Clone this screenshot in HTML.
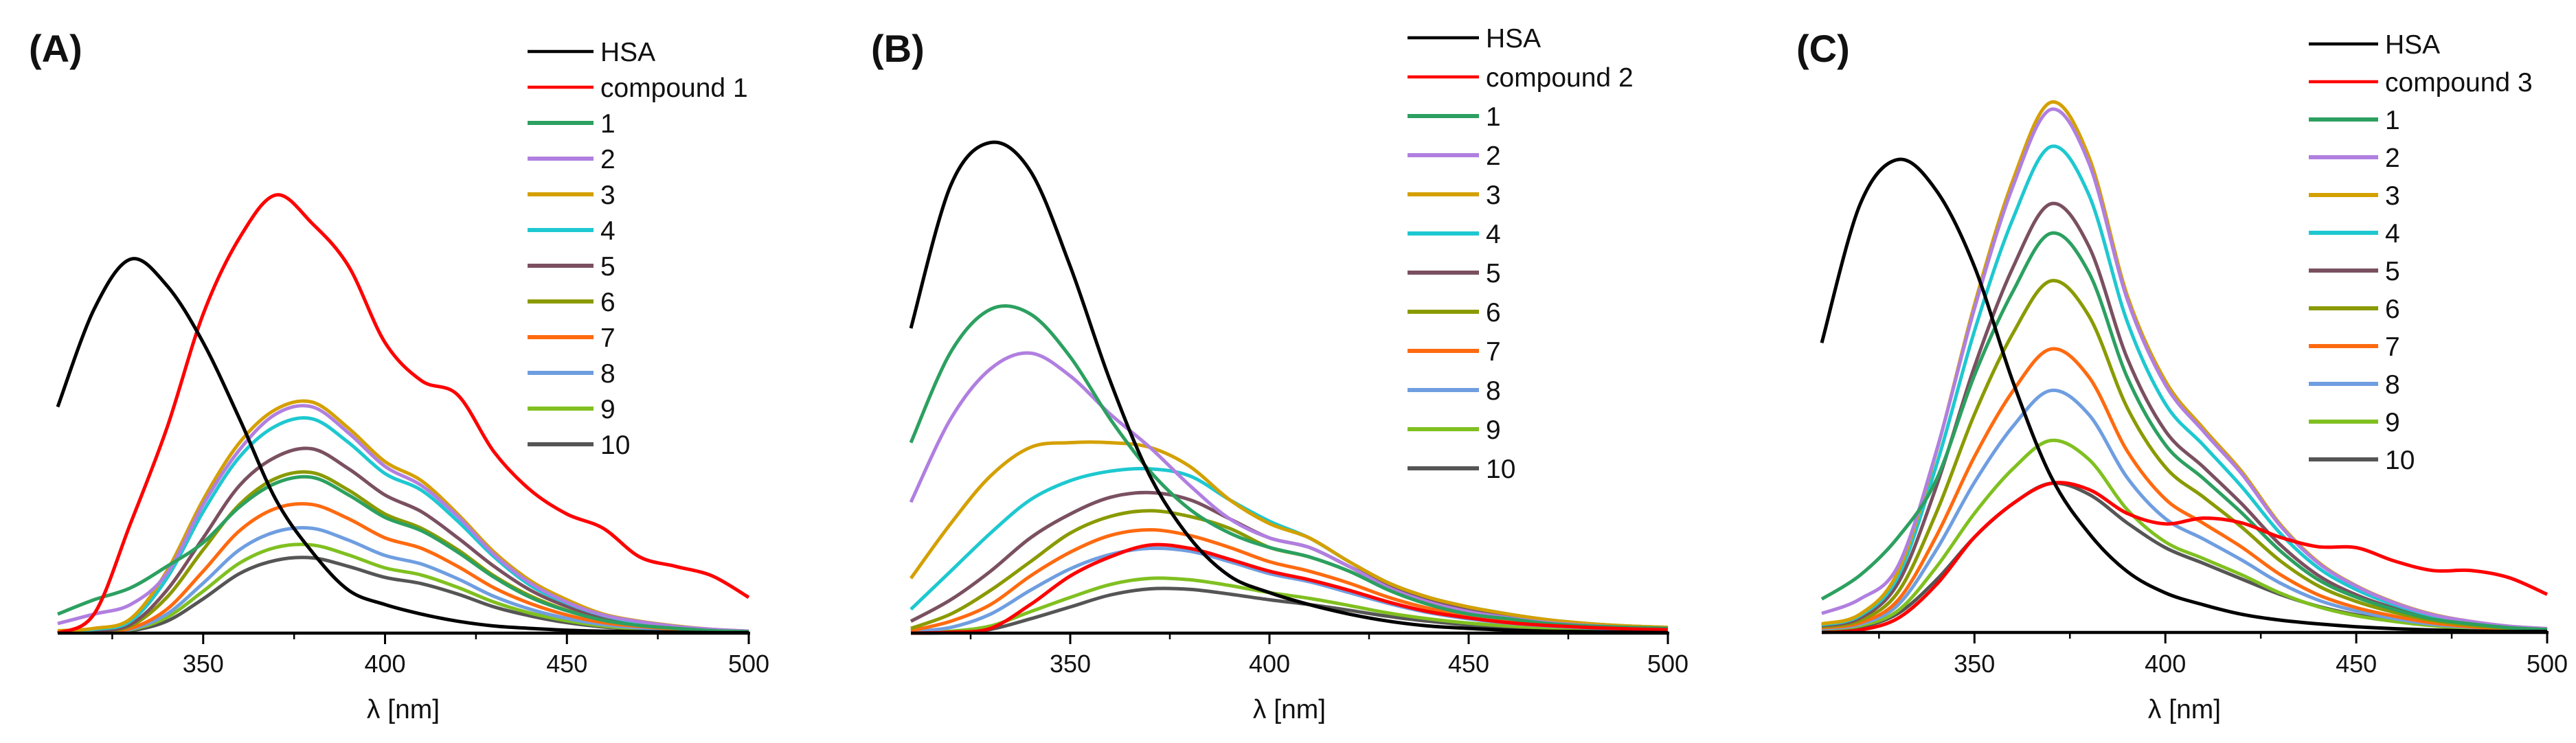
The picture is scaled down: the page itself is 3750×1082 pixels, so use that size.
<!DOCTYPE html>
<html><head><meta charset="utf-8"><style>
html,body{margin:0;padding:0;background:#fff}
svg{display:block}
text{font-family:"Liberation Sans",Arial,sans-serif;fill:#111}
</style></head><body>
<svg id="fig" width="3750" height="1082" viewBox="0 0 3750 1082" xmlns="http://www.w3.org/2000/svg"></svg>
<script>
// ---- shared data ----
const wavelengths = [310,320,330,340,350,360,370,380,390,400,410,420,430,440,450,460,470,480,490,500];
const xTicks = [350,400,450,500];
const minorTicks = [325,375,425,475];
const seriesNames = ["HSA","compound","1","2","3","4","5","6","7","8","9","10"];
const seriesColors = ["#000000","#ff0000","#2ca060","#b07fe0","#d4a000","#1ec8d0","#7a5060","#8a9a00","#ff6a10","#6f9ee0","#80c020","#555555"];

// ---- panel A data ----
const hsaA = [475,680,785,730,610,450,280,170,90,60,40,25,15,10,6,4,3,2,1,1];
const cmpA = [0,40,230,430,670,830,920,860,770,610,530,500,380,300,250,220,160,140,120,75];
const s1A = [40,70,95,140,190,265,315,327,290,243,215,170,117,75,47,27,16,10,5,3];
const s2A = [20,40,60,125,270,385,460,475,420,350,310,245,165,105,65,38,24,14,8,4];
const s3A = [5,10,30,130,280,400,470,485,430,360,320,250,170,110,70,40,25,15,8,4];
const s4A = [4,8,25,115,255,370,435,450,400,335,300,235,160,100,63,37,22,13,7,4];
const s5A = [3,5,18,90,200,310,370,387,345,290,255,200,140,90,56,33,20,12,6,3];
const s6A = [3,5,15,75,175,270,325,337,300,250,220,175,120,78,48,28,17,10,5,3];
const s7A = [2,4,10,50,130,215,262,270,240,200,178,140,95,62,38,22,14,8,4,2];
const s8A = [2,3,8,40,105,175,213,220,195,163,145,114,77,50,31,18,11,6,3,2];
const s9A = [2,3,7,33,88,147,180,185,164,137,122,96,65,42,26,15,9,5,3,2];
const s10A = [1,2,5,25,72,125,153,158,140,117,104,82,55,36,22,13,8,5,3,1];

// ---- panel B data ----
const hsaB = [640,940,1030,970,770,530,330,200,120,85,60,40,25,15,10,6,4,3,2,1];
const cmpB = [0,2,10,60,120,160,185,178,155,130,112,90,65,45,32,22,16,12,9,7];
const s1B = [400,590,680,670,580,450,340,260,210,180,160,130,90,60,40,30,20,15,12,10];
const s2B = [275,450,555,588,540,460,390,310,240,200,180,140,95,65,45,32,22,16,12,10];
const s3B = [115,230,330,390,400,400,390,350,280,230,200,150,105,75,55,40,28,20,15,12];
const s4B = [50,130,210,280,320,340,345,330,280,235,200,150,105,75,55,40,28,20,15,12];
const s5B = [25,70,130,200,250,285,295,280,240,200,180,140,100,70,50,36,26,19,14,11];
const s6B = [10,40,90,150,210,245,257,245,220,180,160,130,92,65,46,33,24,18,13,10];
const s7B = [5,25,60,120,170,205,217,205,180,150,130,105,75,52,37,26,19,14,10,8];
const s8B = [3,12,40,90,135,165,178,172,150,125,108,85,62,43,30,21,15,11,8,6];
const s9B = [1,4,15,45,75,102,115,112,100,85,73,58,42,30,21,15,11,8,6,5];
const s10B = [0,1,8,30,55,80,93,92,82,70,60,48,35,25,17,12,9,7,5,4];

// ---- panel C data ----
const hsaC = [608,898,993,928,768,528,328,208,128,83,58,38,26,18,12,8,5,3,2,2];
const cmpC = [0,5,30,100,200,270,313,300,250,228,240,230,200,180,178,150,130,130,115,80];
const s1C = [70,120,200,320,540,715,838,755,536,394,323,251,172,111,74,48,28,18,10,6];
const s2C = [40,70,140,380,680,935,1098,985,700,520,422,333,225,146,97,62,37,23,13,8];
const s3C = [18,38,128,378,688,948,1113,998,708,528,428,338,228,148,98,63,38,23,13,8];
const s4C = [16,35,118,350,633,867,1020,918,653,480,393,306,209,136,90,58,35,21,12,7];
const s5C = [14,30,104,306,558,765,900,810,576,423,347,270,185,120,79,51,31,19,11,6];
const s6C = [12,25,85,251,458,627,738,664,472,347,284,221,151,98,65,42,25,15,9,5];
const s7C = [10,20,68,202,369,506,595,536,381,280,229,179,122,79,52,34,20,12,7,4];
const s8C = [8,17,58,173,315,432,508,457,325,239,196,152,104,68,45,29,17,11,6,4];
const s9C = [7,14,46,137,250,343,403,363,258,190,155,121,83,54,35,23,14,8,5,3];
const s10C = [5,11,40,110,200,270,313,290,230,178,145,112,80,55,37,25,16,10,6,4];

const panels = [
  {id:"a", title:"(A)", tx:42, cmp:"compound 1", x310:84, x500:1090, base:922, legX:768, legY:75, legStep:52, legLen:96,
   series:[hsaA,cmpA,s1A,s2A,s3A,s4A,s5A,s6A,s7A,s8A,s9A,s10A]},
  {id:"b", title:"(B)", tx:1268, cmp:"compound 2", x310:1326, x500:2428, base:922, legX:2049, legY:55, legStep:57, legLen:104,
   series:[hsaB,cmpB,s1B,s2B,s3B,s4B,s5B,s6B,s7B,s8B,s9B,s10B]},
  {id:"c", title:"(C)", tx:2615, cmp:"compound 3", x310:2652, x500:3708, base:921, legX:3361, legY:64, legStep:55, legLen:101,
   series:[hsaC,cmpC,s1C,s2C,s3C,s4C,s5C,s6C,s7C,s8C,s9C,s10C]}
];
const YSCALE = 0.6936;
const NS = "http://www.w3.org/2000/svg";
const svg = document.getElementById("fig");
function mk(tag, attrs, parent){const e=document.createElementNS(NS,tag);for(const k in attrs)e.setAttribute(k,attrs[k]);(parent||svg).appendChild(e);return e;}
function smoothPath(pts){
  let d="M"+pts[0][0].toFixed(1)+","+pts[0][1].toFixed(1);
  for(let i=0;i<pts.length-1;i++){
    const p0=pts[Math.max(0,i-1)],p1=pts[i],p2=pts[i+1],p3=pts[Math.min(pts.length-1,i+2)];
    const c1x=p1[0]+(p2[0]-p0[0])/6,c1y=p1[1]+(p2[1]-p0[1])/6;
    const c2x=p2[0]-(p3[0]-p1[0])/6,c2y=p2[1]-(p3[1]-p1[1])/6;
    d+=" C"+c1x.toFixed(1)+","+c1y.toFixed(1)+" "+c2x.toFixed(1)+","+c2y.toFixed(1)+" "+p2[0].toFixed(1)+","+p2[1].toFixed(1);
  }
  return d;
}
panels.forEach(p=>{
  const g = mk("g",{});
  
  
  const xs = w => p.x310 + (w-310)*(p.x500-p.x310)/190;
  const ys = v => p.base - v*YSCALE;
  const t = mk("text",{x:p.tx,y:90,"font-size":56,"font-weight":"bold"},g);
  t.textContent = p.title;
  
  
  const order=[11,10,9,8,7,6,5,4,3,2,1,0];
  order.forEach(si=>{
    const vals=p.series[si];
    const pts=wavelengths.map((w,i)=>[xs(w),ys(vals[i])]);
    const path=mk("path",{d:smoothPath(pts),fill:"none",stroke:seriesColors[si],"stroke-width":5,"stroke-linejoin":"round"},g);
    
    
  });
  const ax=mk("line",{x1:p.x310,y1:p.base,x2:p.x500+2,y2:p.base,stroke:"#000","stroke-width":4.5},g);
  
  
  xTicks.forEach(w=>{
    const tk=mk("line",{x1:xs(w),y1:p.base,x2:xs(w),y2:p.base+16,stroke:"#000","stroke-width":3},g);
    
    
    const tl=mk("text",{x:xs(w),y:979,"font-size":36,"text-anchor":"middle"},g);
    tl.textContent=String(w);
    
    
  });
  minorTicks.forEach(w=>{
    const tk=mk("line",{x1:xs(w),y1:p.base,x2:xs(w),y2:p.base+9,stroke:"#000","stroke-width":2.5},g);
    
    
  });
  const xl=mk("text",{x:xs(405),y:1046,"font-size":39,"text-anchor":"middle"},g);
  xl.textContent="λ [nm]";
  
  
  seriesNames.forEach((n,i)=>{
    const y=p.legY+i*p.legStep;
    const le=mk("g",{},g);
    
    
    mk("line",{x1:p.legX,y1:y,x2:p.legX+p.legLen,y2:y,stroke:seriesColors[i],"stroke-width":i<2?4.5:6},le);
    const lt=mk("text",{x:p.legX+p.legLen+10,y:y+14,"font-size":39},le);
    lt.textContent = i===1 ? p.cmp : n;
  });
});
</script>
</body></html>
